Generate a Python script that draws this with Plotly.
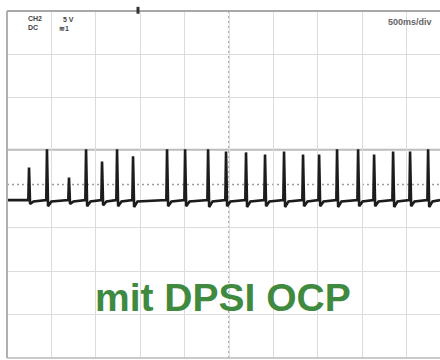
import plotly.graph_objects as go

# --- data (time in s, amplitude in divisions) ---
spike_times = [0.248, 0.450, 0.698, 0.890, 1.070, 1.239, 1.419, 1.802, 2.005, 2.264,
               2.466, 2.691, 2.905, 3.119, 3.333, 3.514, 3.716, 3.953, 4.133, 4.347,
               4.538, 4.741]
spike_peaks = [0.39, 0.81, 0.16, 0.81, 0.53, 0.81, 0.65, 0.81, 0.81, 0.81,
               0.76, 0.74, 0.69, 0.76, 0.69, 0.69, 0.81, 0.81, 0.69, 0.76,
               0.76, 0.81]
spike_dips = [-0.45, -0.50, -0.45, -0.50, -0.48, -0.50, -0.52, -0.50, -0.50, -0.52,
              -0.50, -0.52, -0.50, -0.52, -0.50, -0.50, -0.52, -0.50, -0.50, -0.52,
              -0.50, -0.52]
baseline = -0.36
ref_level = 0.80          # grey marker line above the trace
trigger_time = 1.475
time_div = 0.5            # 500 ms/div
t_end = 4.875             # visible part of the 10-div screen

# --- build trace from spikes ---
xs, ys = [0.0], [baseline]
for t, p, d in zip(spike_times, spike_peaks, spike_dips):
    xs += [t - 0.008, t, t + 0.012, t + 0.05]
    ys += [baseline, p, d, baseline - 0.03]
xs.append(t_end)
ys.append(baseline)

fig = go.Figure()
fig.add_trace(go.Scatter(x=xs, y=ys, mode="lines",
                         line=dict(color="#1c1c1c", width=2.6), hoverinfo="skip"))

grid_y = [-3, -2, -1, 2, 3]
fig.update_layout(
    width=440, height=360,
    margin=dict(l=7, r=0, t=11, b=2),
    paper_bgcolor="white", plot_bgcolor="white",
    showlegend=False,
    xaxis=dict(range=[0, t_end], tick0=0, dtick=time_div, showgrid=True,
               gridcolor="#dcdcdc", gridwidth=1, showticklabels=False,
               zeroline=False, ticks="", showline=False, fixedrange=True),
    yaxis=dict(range=[-4, 4], tickmode="array", tickvals=grid_y, showgrid=True,
               gridcolor="#dcdcdc", gridwidth=1, showticklabels=False,
               zeroline=False, ticks="", showline=False, fixedrange=True),
)

# borders (top, left, bottom)
fig.add_shape(type="line", xref="paper", yref="paper", x0=0, x1=1, y0=1, y1=1,
              line=dict(color="#a8a8a8", width=2))
fig.add_shape(type="line", xref="paper", yref="paper", x0=0, x1=0, y0=0, y1=1,
              line=dict(color="#b0b0b0", width=2))
fig.add_shape(type="line", xref="paper", yref="paper", x0=0, x1=1, y0=0, y1=0,
              line=dict(color="#b8b8b8", width=1.5))
# reference level line
fig.add_shape(type="line", xref="paper", yref="y", x0=0, x1=1, y0=ref_level, y1=ref_level,
              line=dict(color="#bdbdbd", width=2), layer="below")
# center dotted axes
fig.add_shape(type="line", xref="x", yref="paper", x0=5 * time_div, x1=5 * time_div, y0=0, y1=1,
              line=dict(color="#8a8a8a", width=1.5, dash="2px,3px"), layer="below")
fig.add_shape(type="line", xref="paper", yref="y", x0=0, x1=0.999, y0=0, y1=0,
              line=dict(color="#9a9a9a", width=1.5, dash="2px,3px"), layer="below")

# trigger marker at top edge
fig.add_shape(type="line", xref="x", yref="paper", x0=trigger_time, x1=trigger_time,
              y0=0.992, y1=1.012, line=dict(color="#333", width=3))

# header texts
fig.add_annotation(x=0.045, y=0.995, xref="paper", yref="paper", xanchor="left", yanchor="top",
                   text="<b>CH2</b><br><b>DC</b>", showarrow=False, align="left",
                   font=dict(size=7, color="#444", family="Liberation Sans"))
fig.add_annotation(x=0.115, y=0.99, xref="paper", yref="paper", xanchor="left", yanchor="top",
                   text="<b>  5 V</b><br><b>≋1</b>", showarrow=False, align="left",
                   font=dict(size=7, color="#444", family="Liberation Sans"))
fig.add_annotation(x=0.985, y=0.988, xref="paper", yref="paper", xanchor="right", yanchor="top",
                   text="<b>500ms/div</b>", showarrow=False,
                   font=dict(size=9, color="#666", family="Liberation Sans"))

# green caption
fig.add_annotation(x=0.499, y=0.173, xref="paper", yref="paper", xanchor="center", yanchor="middle",
                   text="<b>mit DPSI OCP</b>", showarrow=False,
                   font=dict(size=39, color="#3f8a3f", family="Liberation Sans"))

fig.write_html("out.html", config={"displayModeBar": False},
               post_script="document.body.style.margin='0';document.body.style.overflow='hidden';")
